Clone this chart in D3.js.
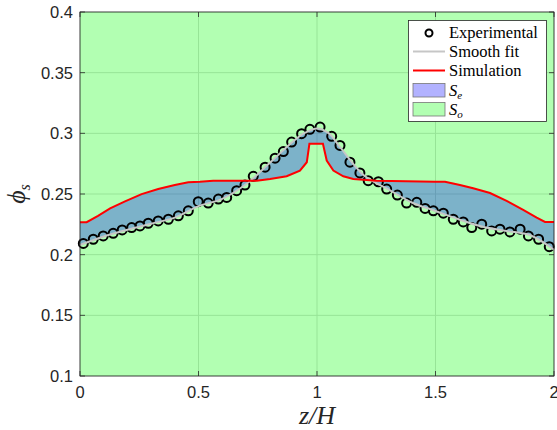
<!DOCTYPE html>
<html>
<head>
<meta charset="utf-8">
<script src="https://cdn.jsdelivr.net/npm/d3@7"></script>
<style>
  body { margin: 0; background: #fff; }
  svg { display: block; }
</style>
</head>
<body>
<div id="chart"></div>
<script>
// experimental points (z/H, phi_s)
const zExp = [0.014, 0.056, 0.098, 0.140, 0.178, 0.218, 0.253, 0.288, 0.330, 0.373,
  0.415, 0.457, 0.499, 0.541, 0.584, 0.619, 0.661, 0.696, 0.731, 0.781,
  0.823, 0.858, 0.893, 0.935, 0.970, 1.013, 1.062, 1.097, 1.139, 1.181,
  1.216, 1.259, 1.294, 1.339, 1.378, 1.421, 1.456, 1.491, 1.533, 1.575,
  1.617, 1.653, 1.695, 1.737, 1.772, 1.814, 1.857, 1.892, 1.935, 1.980];
const phiExp = [0.2093, 0.2127, 0.2154, 0.2176, 0.2204, 0.2223, 0.2237, 0.2259, 0.2278, 0.2292,
  0.2320, 0.2361, 0.2437, 0.2425, 0.2458, 0.2472, 0.2527, 0.2574, 0.2646, 0.2721,
  0.2795, 0.2850, 0.2928, 0.2997, 0.3033, 0.3052, 0.2975, 0.2900, 0.2762, 0.2674,
  0.2610, 0.2601, 0.2541, 0.2491, 0.2425, 0.2431, 0.2381, 0.2361, 0.2342, 0.2292,
  0.2270, 0.2223, 0.2251, 0.2196, 0.2210, 0.2187, 0.2210, 0.2154, 0.2127, 0.2066];

// smooth fit
const zFit = [0, 0.1, 0.2, 0.3, 0.4, 0.5, 0.6, 0.7, 0.8, 0.9, 0.95, 1.0, 1.05, 1.1,
  1.2, 1.3, 1.4, 1.5, 1.6, 1.7, 1.8, 1.9, 2.0];
const phiFit = [0.2080, 0.2150, 0.2205, 0.2255, 0.2305, 0.2400, 0.2460, 0.2580, 0.2755, 0.2935,
  0.3005, 0.3040, 0.3000, 0.2880, 0.2650, 0.2540, 0.2430, 0.2360, 0.2290, 0.2230,
  0.2195, 0.2160, 0.2040];

// simulation
const zSim = [0, 0.028, 0.076, 0.127, 0.19, 0.26, 0.33, 0.40, 0.457, 0.506,
  0.562, 0.746, 0.802, 0.872, 0.928, 0.957, 0.968, 1.025, 1.041, 1.069,
  1.111, 1.153, 1.252, 1.498, 1.540, 1.603, 1.659, 1.730, 1.800, 1.870,
  1.927, 1.962, 2.0];
const phiSim = [0.2268, 0.2268, 0.2320, 0.2381, 0.2439, 0.2499, 0.2541, 0.2574, 0.2597, 0.2600,
  0.2610, 0.2610, 0.2624, 0.2646, 0.2693, 0.2762, 0.2914, 0.2914, 0.2776, 0.2693,
  0.2646, 0.2624, 0.2610, 0.2601, 0.2601, 0.2574, 0.2547, 0.2508, 0.2444, 0.2370,
  0.2306, 0.2270, 0.2270];

const xTicks = [0, 0.5, 1, 1.5, 2];
const xTickLabels = ["0", "0.5", "1", "1.5", "2"];
const yTicks = [0.1, 0.15, 0.2, 0.25, 0.3, 0.35, 0.4];
const yTickLabels = ["0.1", "0.15", "0.2", "0.25", "0.3", "0.35", "0.4"];

const legendLabels = ["Experimental", "Smooth fit", "Simulation", "S", "S"];
const legendSubs = ["", "", "", "e", "o"];

const W = 557, H = 430;
const pLeft = 80, pRight = 554, pTop = 12, pBottom = 376;
const axisColor = "#262626";

const svg = d3.select("#chart").append("svg")
  .attr("width", W)
  .attr("height", H);

const x = d3.scaleLinear().domain([0, 2]).range([pLeft, pRight]);
const y = d3.scaleLinear().domain([0.1, 0.4]).range([pBottom, pTop]);

// grid (under the translucent patches)
const grid = svg.append("g");
grid.selectAll("line.gx").data(xTicks).join("line")
  .attr("x1", d => x(d)).attr("x2", d => x(d))
  .attr("y1", pTop).attr("y2", pBottom)
  .attr("stroke", "#d9d9d9").attr("stroke-width", 1);
grid.selectAll("line.gy").data(yTicks).join("line")
  .attr("x1", pLeft).attr("x2", pRight)
  .attr("y1", d => y(d)).attr("y2", d => y(d))
  .attr("stroke", "#d9d9d9").attr("stroke-width", 1);

// S_o : whole area in green
svg.append("rect")
  .attr("x", pLeft).attr("y", pTop)
  .attr("width", pRight - pLeft).attr("height", pBottom - pTop)
  .attr("fill", "#00ff00").attr("fill-opacity", 0.3);

// S_e : between simulation and smooth fit
const simLine = d3.line().x((d, i) => x(zSim[i])).y(d => y(d));
const fitLine = d3.line().x(d => x(d[0])).y(d => y(d[1])).curve(d3.curveCatmullRom.alpha(0.5));
const fitPts = zFit.map((z, i) => [z, phiFit[i]]);
const fitBack = fitLine(fitPts.slice().reverse());
svg.append("path")
  .attr("d", simLine(phiSim) + "L" + fitBack.slice(1) + "Z")
  .attr("fill", "#0000ff").attr("fill-opacity", 0.3)
  .attr("stroke", "none");

// experimental markers
svg.append("g").selectAll("circle").data(phiExp).join("circle")
  .attr("cx", (d, i) => x(zExp[i]))
  .attr("cy", d => y(d))
  .attr("r", 4.5)
  .attr("fill", "none")
  .attr("stroke", "#000")
  .attr("stroke-width", 2);

// smooth fit line
svg.append("path")
  .attr("d", fitLine(fitPts))
  .attr("fill", "none")
  .attr("stroke", "#c6c6c6")
  .attr("stroke-width", 2);

// simulation line
svg.append("path")
  .attr("d", simLine(phiSim))
  .attr("fill", "none")
  .attr("stroke", "#ff0000")
  .attr("stroke-width", 2);

// axes box + inward ticks on all sides
svg.append("rect")
  .attr("x", pLeft).attr("y", pTop)
  .attr("width", pRight - pLeft).attr("height", pBottom - pTop)
  .attr("fill", "none").attr("stroke", axisColor).attr("stroke-width", 0.8);

const tk = 5;
const ticks = svg.append("g").attr("stroke", axisColor).attr("stroke-width", 0.8);
xTicks.forEach(t => {
  ticks.append("line").attr("x1", x(t)).attr("x2", x(t)).attr("y1", pBottom).attr("y2", pBottom - tk);
  ticks.append("line").attr("x1", x(t)).attr("x2", x(t)).attr("y1", pTop).attr("y2", pTop + tk);
});
yTicks.forEach(t => {
  ticks.append("line").attr("x1", pLeft).attr("x2", pLeft + tk).attr("y1", y(t)).attr("y2", y(t));
  ticks.append("line").attr("x1", pRight).attr("x2", pRight - tk).attr("y1", y(t)).attr("y2", y(t));
});

// tick labels
svg.append("g").selectAll("text").data(xTicks).join("text")
  .attr("x", d => x(d))
  .attr("y", pBottom + 22)
  .attr("text-anchor", "middle")
  .attr("font-family", "Liberation Sans, Arial, sans-serif")
  .attr("font-size", 16.5)
  .attr("fill", axisColor)
  .text((d, i) => xTickLabels[i]);

svg.append("g").selectAll("text").data(yTicks).join("text")
  .attr("x", pLeft - 7)
  .attr("y", d => y(d) + 6)
  .attr("text-anchor", "end")
  .attr("font-family", "Liberation Sans, Arial, sans-serif")
  .attr("font-size", 16.5)
  .attr("fill", axisColor)
  .text((d, i) => yTickLabels[i]);

// axis labels
svg.append("text")
  .attr("x", (pLeft + pRight) / 2)
  .attr("y", 424)
  .attr("text-anchor", "middle")
  .attr("font-family", "Liberation Serif, DejaVu Serif, serif")
  .attr("font-style", "italic")
  .attr("font-size", 26)
  .attr("fill", axisColor)
  .text("z/H");

const yl = svg.append("text")
  .attr("transform", `translate(25,${(pTop + pBottom) / 2}) rotate(-90)`)
  .attr("text-anchor", "middle")
  .attr("font-family", "Liberation Serif, DejaVu Serif, serif")
  .attr("font-style", "italic")
  .attr("font-size", 26)
  .attr("fill", axisColor);
yl.append("tspan").text("\u03d5");
yl.append("tspan").attr("font-size", 16).attr("dy", 5).text("s");

// legend
const lg = svg.append("g");
lg.append("rect")
  .attr("x", 408.5).attr("y", 20.5)
  .attr("width", 138).attr("height", 101)
  .attr("fill", "#fff").attr("stroke", axisColor).attr("stroke-width", 0.8);

const rowY = [33, 51.5, 70.5, 90.5, 109.5];
const lx0 = 413, lx1 = 445, tx = 449;

lg.append("circle").attr("cx", (lx0 + lx1) / 2).attr("cy", rowY[0]).attr("r", 3.5)
  .attr("fill", "none").attr("stroke", "#000").attr("stroke-width", 2);
lg.append("line").attr("x1", lx0).attr("x2", lx1).attr("y1", rowY[1]).attr("y2", rowY[1])
  .attr("stroke", "#c6c6c6").attr("stroke-width", 2);
lg.append("line").attr("x1", lx0).attr("x2", lx1).attr("y1", rowY[2]).attr("y2", rowY[2])
  .attr("stroke", "#ff0000").attr("stroke-width", 2);
lg.append("rect").attr("x", lx0).attr("y", rowY[3] - 7).attr("width", lx1 - lx0).attr("height", 13.5)
  .attr("fill", "#0000ff").attr("fill-opacity", 0.3).attr("stroke", "#777").attr("stroke-width", 0.8);
lg.append("rect").attr("x", lx0).attr("y", rowY[4] - 7).attr("width", lx1 - lx0).attr("height", 13.5)
  .attr("fill", "#00ff00").attr("fill-opacity", 0.3).attr("stroke", "#777").attr("stroke-width", 0.8);

legendLabels.forEach((lab, i) => {
  const t = lg.append("text")
    .attr("x", tx)
    .attr("y", rowY[i] + 5)
    .attr("font-family", "Liberation Serif, DejaVu Serif, serif")
    .attr("font-size", 16.5)
    .attr("fill", "#000");
  if (legendSubs[i]) {
    t.attr("font-style", "italic");
    t.append("tspan").text(lab);
    t.append("tspan").attr("font-size", 11).attr("dy", 3).text(legendSubs[i]);
  } else {
    t.text(lab);
  }
});
</script>
</body>
</html>
